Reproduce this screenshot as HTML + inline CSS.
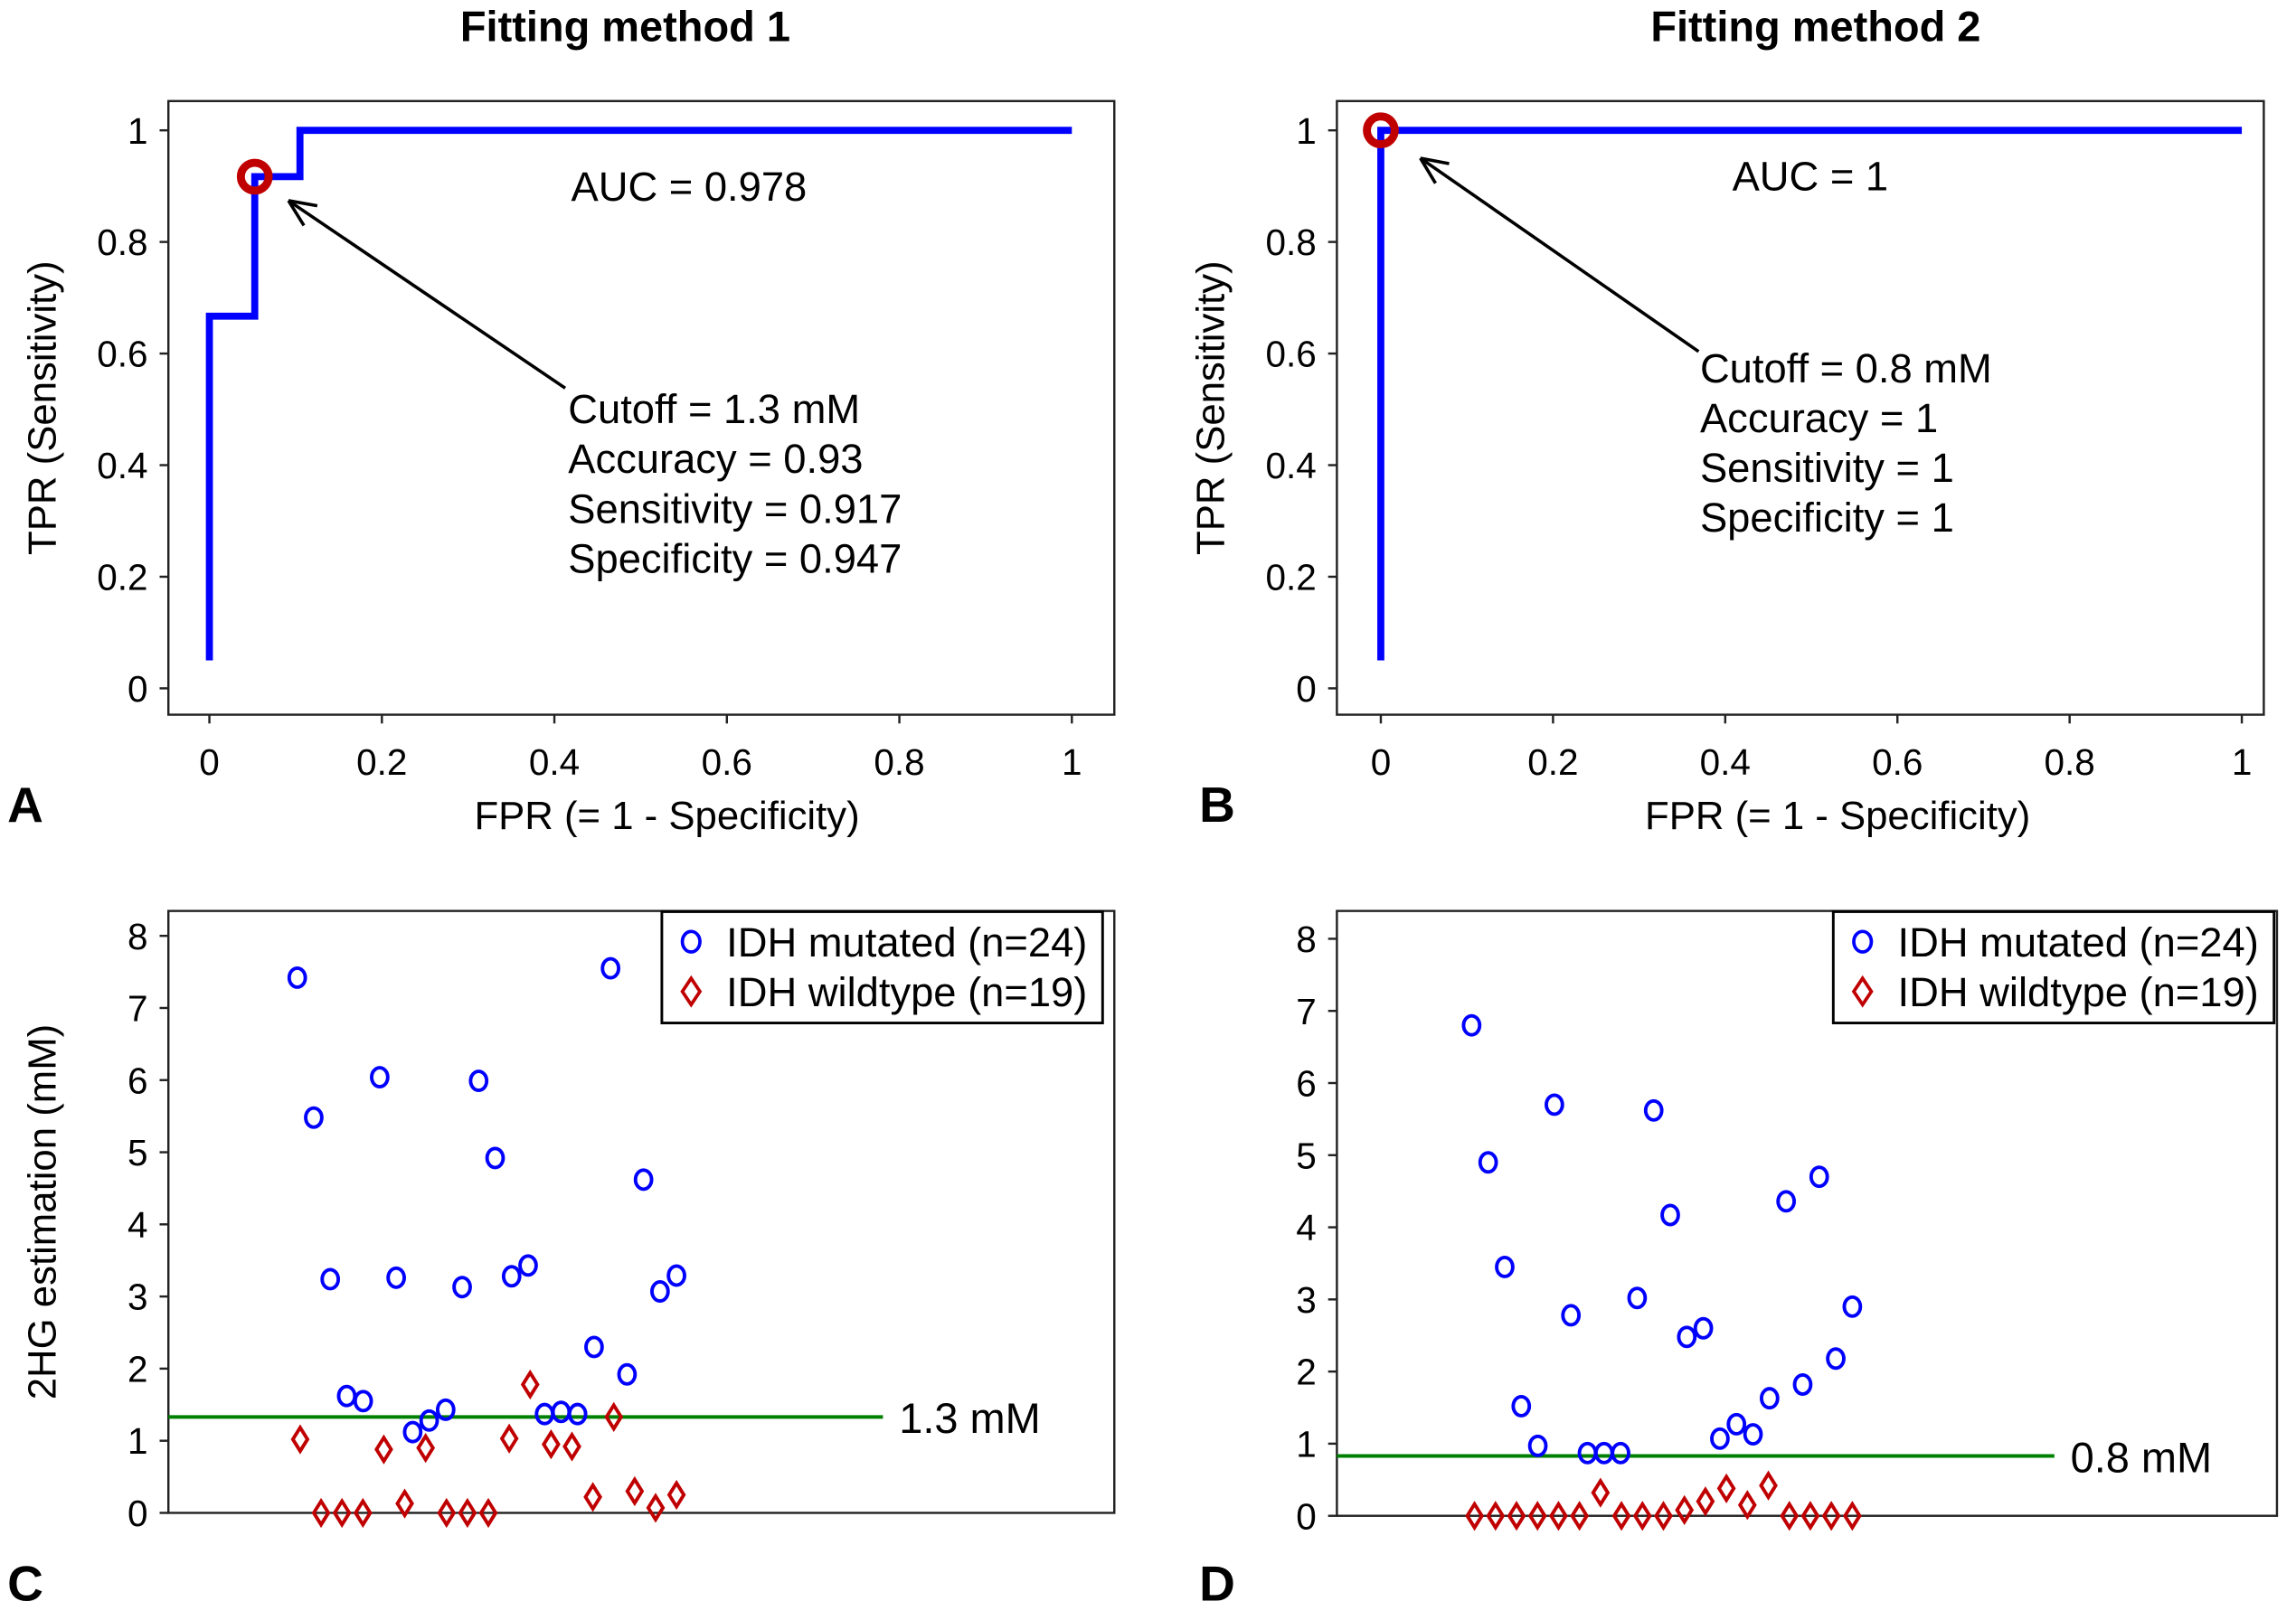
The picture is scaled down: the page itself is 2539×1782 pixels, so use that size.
<!DOCTYPE html>
<html><head><meta charset="utf-8"><style>
html,body{margin:0;padding:0;background:#fff}
svg{display:block}
text{font-family:"Liberation Sans",Arial,sans-serif;fill:#000}
</style></head><body>
<svg id="fig" width="2539" height="1782" viewBox="0 0 1568 1100" preserveAspectRatio="none" xmlns="http://www.w3.org/2000/svg">
<g id="root"></g>
</svg>
<script>
// ROC data
const rocA_fpr = [0, 0, 0.0526, 0.0526, 0.105, 0.105, 1];
const rocA_tpr = [0.05, 0.667, 0.667, 0.917, 0.917, 1, 1];
const rocB_fpr = [0, 0, 1];
const rocB_tpr = [0.05, 1, 1];
const rocA_cut = [0.0526, 0.917];
const rocB_cut = [0, 1];
const rocTicks = [0, 0.2, 0.4, 0.6, 0.8, 1];
const rocTickLabels = ["0", "0.2", "0.4", "0.6", "0.8", "1"];
// Scatter data
const mutC = [7.42,5.48,3.24,1.62,1.55,6.04,3.26,1.12,1.28,1.43,3.13,5.99,4.92,3.28,3.43,1.37,1.40,1.37,2.30,7.55,1.92,4.62,3.07,3.29];
const wildC = [1.02,0,0,0,0.88,0.13,0.90,0,0,0,1.03,1.78,0.95,0.92,0.22,1.33,0.30,0.07,0.25];
const mutD = [6.80,4.90,3.45,1.52,0.97,5.70,2.78,0.87,0.87,0.87,3.02,5.62,4.17,2.48,2.60,1.07,1.27,1.13,1.63,4.36,1.82,4.70,2.18,2.90];
const wildD = [0,0,0,0,0,0,0.32,0,0,0,0.08,0.20,0.38,0.15,0.42,0,0,0,0];
const cutC = [1.33];
const cutD = [0.83];
const scTicks = [0,1,2,3,4,5,6,7,8];

const NS="http://www.w3.org/2000/svg";
const root=document.getElementById('root');
function mk(tag,attrs,parent,txt){const e=document.createElementNS(NS,tag);for(const k in attrs)e.setAttribute(k,attrs[k]);if(txt!==undefined)e.textContent=txt;(parent||root).appendChild(e);return e;}

function rocPanel(o){
  const g=mk('g',{});
  
  
  const sx=v=>o.x0+(o.x1-o.x0)*v, sy=v=>o.y0+(o.y1-o.y0)*v;
  const t=mk('text',{x:o.tx,y:28,'font-size':29,'font-weight':'bold','text-anchor':'middle'},g,o.title);
  
  
  const box=mk('rect',{x:o.L,y:o.T,width:o.R-o.L,height:o.B-o.T,fill:'none',stroke:'#222','stroke-width':1.5},g);
  
  
  rocTicks.forEach((v,i)=>{
    mk('line',{x1:sx(v),x2:sx(v),y1:o.B,y2:o.B+6,stroke:'#222','stroke-width':1.5},g);
    const xl=mk('text',{x:sx(v),y:o.B+41,'font-size':25,'text-anchor':'middle',fill:'#222'},g,rocTickLabels[i]);
    
    
    mk('line',{x1:o.L-6,x2:o.L,y1:sy(v),y2:sy(v),stroke:'#222','stroke-width':1.5},g);
    const yl=mk('text',{x:o.L-14,y:sy(v)+9,'font-size':25,'text-anchor':'end',fill:'#222'},g,rocTickLabels[i]);
    
    
  });
  const xt=mk('text',{x:(o.x0+o.x1)/2+18,y:566,'font-size':27,'text-anchor':'middle',fill:'#222'},g,'FPR (= 1 - Specificity)');
  
  
  const yt=mk('text',{x:0,y:0,'font-size':27,'text-anchor':'middle',fill:'#222',transform:`translate(${o.L-77},${(o.T+o.B)/2}) rotate(-90)`},g,'TPR (Sensitivity)');
  
  
  const pts=o.fpr.map((f,i)=>sx(f)+','+sy(o.tpr[i])).join(' ');
  const pl=mk('polyline',{points:pts,fill:'none',stroke:'#0000ff','stroke-width':4.8},g);
  
  
  const c=mk('circle',{cx:sx(o.cut[0]),cy:sy(o.cut[1]),r:9.5,fill:'none',stroke:'#c00000','stroke-width':5.5},g);
  
  
  const a=o.arrow;
  const ar=mk('line',{x1:a[0],y1:a[1],x2:a[2],y2:a[3],stroke:'#000','stroke-width':2.2},g);
  
  
  const ang=Math.atan2(a[1]-a[3],a[0]-a[2]);
  const hl=20;
  [0.42,-0.42].forEach(d=>{mk('line',{x1:a[2],y1:a[3],x2:a[2]+hl*Math.cos(ang+d),y2:a[3]+hl*Math.sin(ang+d),stroke:'#000','stroke-width':2.2},g);});
  const auc=mk('text',{x:o.auc[0],y:o.auc[1],'font-size':28},g,o.auc[2]);
  
  
  o.stats.forEach((s,i)=>{const st=mk('text',{x:o.sx0,y:o.sy0+34*i,'font-size':28},g,s);
    
    });
  const pl2=mk('text',{x:o.letter[0],y:o.letter[1],'font-size':34,'font-weight':'bold'},g,o.letter[2]);
  
  
}

rocPanel({name:'roc-panel-a',title:'Fitting method 1',tx:427,L:115,R:761,T:69,B:488,x0:143,x1:732,y0:470,y1:89,
  fpr:rocA_fpr,tpr:rocA_tpr,cut:rocA_cut,arrow:[386,265,197,137],auc:[390,137,'AUC = 0.978'],
  stats:['Cutoff = 1.3 mM','Accuracy = 0.93','Sensitivity = 0.917','Specificity = 0.947'],sx0:388,sy0:289,letter:[5,561,'A']});
rocPanel({name:'roc-panel-b',title:'Fitting method 2',tx:1240,L:913,R:1546,T:69,B:488,x0:943,x1:1531,y0:470,y1:89,
  fpr:rocB_fpr,tpr:rocB_tpr,cut:rocB_cut,arrow:[1160,240,970,108],auc:[1183,130,'AUC = 1'],
  stats:['Cutoff = 0.8 mM','Accuracy = 1','Sensitivity = 1','Specificity = 1'],sx0:1161,sy0:261,letter:[819,561,'B']});

function scatterPanel(o){
  const g=mk('g',{});
  
  
  const sy=v=>o.y0+(o.y8-o.y0)*v/8;
  const sxm=i=>o.xa+(o.xb-o.xa)*i/(o.mut.length-1);
  const sxw=i=>o.xa+2+(o.xb-o.xa-2)*i/(o.wild.length-1);
  const box=mk('rect',{x:o.L,y:o.T,width:o.R-o.L,height:o.y0-o.T,fill:'none',stroke:'#222','stroke-width':1.5},g);
  
  
  scTicks.forEach(v=>{
    mk('line',{x1:o.L-6,x2:o.L,y1:sy(v),y2:sy(v),stroke:'#222','stroke-width':1.5},g);
    const yl=mk('text',{x:o.L-14,y:sy(v)+9,'font-size':25,'text-anchor':'end',fill:'#222'},g,String(v));
    
    
  });
  if(o.ytitle){const yt=mk('text',{x:0,y:0,'font-size':27,'text-anchor':'middle',fill:'#222',transform:`translate(${o.L-77},${(o.T+o.y0)/2}) rotate(-90)`},g,'2HG estimation (mM)');
    
    }
  const cl=mk('line',{x1:o.L,x2:o.lineEnd,y1:sy(o.cut[0]),y2:sy(o.cut[0]),stroke:'#008000','stroke-width':2.5},g);
  
  
  const ct=mk('text',{x:o.lineEnd+11,y:sy(o.cut[0])+11,'font-size':29},g,o.cutLabel);
  
  
  o.mut.forEach((v,i)=>{const c=mk('ellipse',{cx:sxm(i),cy:sy(v),rx:5.5,ry:6.5,fill:'none',stroke:'#0000ff','stroke-width':2.4},g);
    
    });
  o.wild.forEach((v,i)=>{const x=sxw(i),y=sy(v);
    const d=mk('polygon',{points:`${x},${y-8} ${x+5},${y} ${x},${y+8} ${x-5},${y}`,fill:'none',stroke:'#c00000','stroke-width':2.4},g);
    
    });
  const lg=mk('g',{},g);
  
  
  mk('rect',{x:o.lx,y:o.T+0.5,width:301,height:76,fill:'#fff',stroke:'#000','stroke-width':1.8},lg);
  mk('ellipse',{cx:o.lx+20,cy:o.T+21,rx:6,ry:7,fill:'none',stroke:'#0000ff','stroke-width':2.3},lg);
  const l1=mk('text',{x:o.lx+44,y:o.T+31,'font-size':28},lg,'IDH mutated (n=24)');
  
  
  const x=o.lx+20,y=o.T+55;
  mk('polygon',{points:`${x},${y-9} ${x+6},${y} ${x},${y+9} ${x-6},${y}`,fill:'none',stroke:'#c00000','stroke-width':2.3},lg);
  const l2=mk('text',{x:o.lx+44,y:o.T+65,'font-size':28},lg,'IDH wildtype (n=19)');
  
  
  const pl=mk('text',{x:o.letter[0],y:o.letter[1],'font-size':34,'font-weight':'bold'},g,o.letter[2]);
  
  
}
scatterPanel({name:'scatter-panel-c',L:115,R:761,T:622,y0:1033,y8:639,xa:203,xb:462,mut:mutC,wild:wildC,cut:cutC,lineEnd:603,cutLabel:'1.3 mM',lx:452,ytitle:true,letter:[5,1093,'C']});
scatterPanel({name:'scatter-panel-d',L:913,R:1555,T:622,y0:1035,y8:641,xa:1005,xb:1265,mut:mutD,wild:wildD,cut:cutD,lineEnd:1403,cutLabel:'0.8 mM',lx:1252,ytitle:false,letter:[819,1093,'D']});
</script>
</body></html>
